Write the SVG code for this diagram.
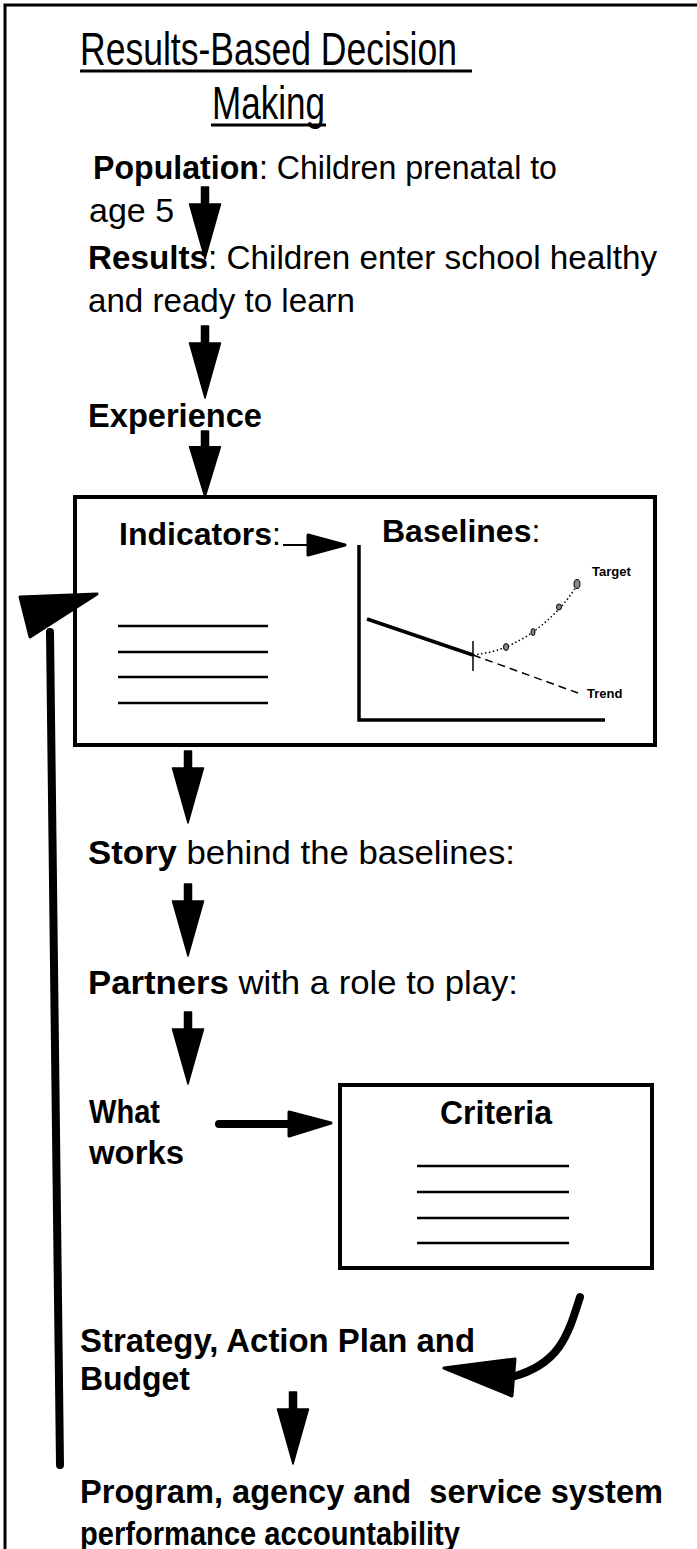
<svg xmlns="http://www.w3.org/2000/svg" xmlns:xlink="http://www.w3.org/1999/xlink" width="697" height="1549" viewBox="0 0 697 1549">
<style>
text{font-family:"Liberation Sans",Arial,sans-serif;fill:#000}
.t{font-size:34px}
.i{font-size:32px}
.b{font-weight:bold}
.ttl{font-size:46px}
.frame{fill:none;stroke:#000;stroke-width:3}
.box{fill:none;stroke:#000;stroke-width:4}
.rule{stroke:#000;stroke-width:2.5}
.ax{fill:none;stroke:#000;stroke-width:3.5}
.sm{font-size:13px;font-weight:bold}
.head{fill:#000;stroke:#000;stroke-width:3;stroke-linejoin:round}
.thick{fill:none;stroke:#000;stroke-width:8;stroke-linecap:round}
</style>
<defs>
<path id="down" d="M-3.5,0 H3.5 V17 H15.5 L0,72 L-15.5,17 H-3.5 Z" fill="#000" stroke="#000" stroke-width="1.5" stroke-linejoin="round"/>
</defs>
<rect x="0" y="0" width="697" height="1549" fill="#fff"/>
<path class="frame" d="M5,1549 V5 H697"/>

<g id="title">
<text class="ttl" x="80" y="65" textLength="377" lengthAdjust="spacingAndGlyphs">Results-Based Decision</text>
<line x1="80" y1="71" x2="472" y2="71" stroke="#000" stroke-width="3"/>
<text class="ttl" x="212" y="119" textLength="113" lengthAdjust="spacingAndGlyphs">Making</text>
<line x1="211" y1="125" x2="326" y2="125" stroke="#000" stroke-width="3"/>
</g>

<g id="population">
<text class="t" x="93" y="179" textLength="464" lengthAdjust="spacingAndGlyphs"><tspan class="b">Population</tspan>: Children prenatal to</text>
<text class="t" x="89" y="222">age 5</text>
</g>

<g id="results">
<text class="t" x="88" y="269" textLength="569" lengthAdjust="spacingAndGlyphs"><tspan class="b">Results</tspan>: Children enter school healthy</text>
<text class="t" x="88" y="312" textLength="267" lengthAdjust="spacingAndGlyphs">and ready to learn</text>
</g>

<g id="experience">
<text class="t b" x="88" y="427" textLength="174" lengthAdjust="spacingAndGlyphs">Experience</text>
</g>

<g id="indicators-box">
<rect class="box" x="75" y="497" width="580" height="248"/>
<text class="i" x="119" y="545"><tspan class="b">Indicators</tspan>:</text>
<line class="rule" x1="118" y1="626" x2="268" y2="626"/>
<line class="rule" x1="118" y1="652" x2="268" y2="652"/>
<line class="rule" x1="118" y1="677" x2="268" y2="677"/>
<line class="rule" x1="118" y1="703" x2="268" y2="703"/>
<text class="i" x="382" y="542"><tspan class="b">Baselines</tspan>:</text>
<path class="ax" d="M359,545 V720 H605"/>
<line x1="367" y1="619" x2="473" y2="655" stroke="#000" stroke-width="3.5"/>
<line x1="473" y1="641" x2="473" y2="671" stroke="#000" stroke-width="1.5"/>
<line x1="473" y1="655" x2="578" y2="693" stroke="#000" stroke-width="1.5" stroke-dasharray="8 5"/>
<path d="M473,655 Q495,652 506,647 Q522,640 533,632 Q548,621 560,608 Q570,597 577,585" fill="none" stroke="#000" stroke-width="1.5" stroke-dasharray="1.5 2.5"/>
<ellipse cx="506" cy="647" rx="2.5" ry="3.5" fill="#888" stroke="#000" stroke-width="1"/>
<ellipse cx="533" cy="632" rx="2" ry="3.5" fill="#888" stroke="#000" stroke-width="1"/>
<ellipse cx="559" cy="607" rx="2.5" ry="3" fill="#888" stroke="#000" stroke-width="1"/>
<ellipse cx="577" cy="584" rx="3" ry="4.5" fill="#888" stroke="#000" stroke-width="1"/>
<text class="sm" x="592" y="576">Target</text>
<text class="sm" x="587" y="698">Trend</text>
</g>

<g id="story">
<text class="t" x="88" y="864" textLength="427" lengthAdjust="spacingAndGlyphs"><tspan class="b">Story</tspan> behind the baselines:</text>
</g>

<g id="partners">
<text class="t" x="88" y="994" textLength="430" lengthAdjust="spacingAndGlyphs"><tspan class="b">Partners</tspan> with a role to play:</text>
</g>

<g id="what-works">
<text class="t b" x="89" y="1123" textLength="71" lengthAdjust="spacingAndGlyphs">What</text>
<text class="t b" x="89" y="1164" textLength="95" lengthAdjust="spacingAndGlyphs">works</text>
</g>

<g id="criteria-box">
<rect class="box" x="340" y="1085" width="312" height="183"/>
<text class="t b" x="440" y="1124" textLength="112" lengthAdjust="spacingAndGlyphs">Criteria</text>
<line class="rule" x1="417" y1="1166" x2="569" y2="1166"/>
<line class="rule" x1="417" y1="1192" x2="569" y2="1192"/>
<line class="rule" x1="417" y1="1218" x2="569" y2="1218"/>
<line class="rule" x1="417" y1="1243" x2="569" y2="1243"/>
</g>

<g id="strategy">
<text class="t b" x="80" y="1352" textLength="395" lengthAdjust="spacingAndGlyphs">Strategy, Action Plan and</text>
<text class="t b" x="80" y="1390" textLength="110" lengthAdjust="spacingAndGlyphs">Budget</text>
</g>

<g id="program">
<text class="t b" x="80" y="1503" textLength="583" lengthAdjust="spacingAndGlyphs" xml:space="preserve">Program, agency and  service system</text>
<text class="t b" x="80" y="1545" textLength="380" lengthAdjust="spacingAndGlyphs">performance accountability</text>
</g>

<g id="connectors">
<use xlink:href="#down" href="#down" x="205" y="187"/>
<use xlink:href="#down" href="#down" x="205" y="326"/>
<use xlink:href="#down" href="#down" transform="translate(205,431) scale(1,0.92)"/>
<use xlink:href="#down" href="#down" x="188" y="751"/>
<use xlink:href="#down" href="#down" x="188" y="884"/>
<use xlink:href="#down" href="#down" x="188" y="1012"/>
<use xlink:href="#down" href="#down" x="293" y="1392"/>
<line x1="283" y1="545" x2="310" y2="545" stroke="#000" stroke-width="2"/>
<polygon class="head" points="308,535 345,545 308,555"/>
<line class="thick" x1="219" y1="1124" x2="292" y2="1124"/>
<polygon class="head" points="289,1112 331,1123 289,1136"/>
<line class="thick" x1="60" y1="1465" x2="50" y2="632"/>
<polygon class="head" points="20,597 97,594 30,637"/>
<path class="thick" d="M580,1297 C568,1335 560,1364 512,1377"/>
<polygon class="head" points="444,1368 515,1359 512,1396"/>
</g>
</svg>
